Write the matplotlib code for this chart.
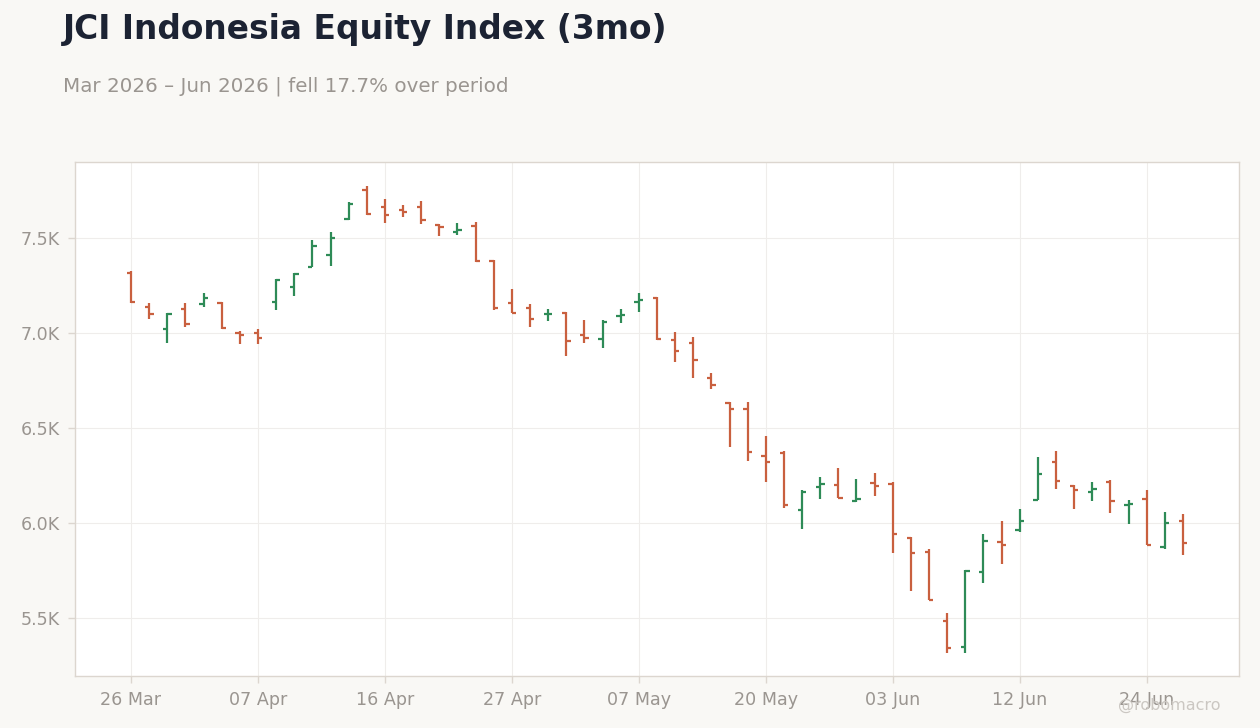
import numpy as np
import pandas as pd
import matplotlib
matplotlib.use("Agg")
import matplotlib.pyplot as plt
from matplotlib.ticker import FuncFormatter

## Data
holidays = ["2026-04-03", "2026-05-01", "2026-05-14", "2026-05-15",
            "2026-05-27", "2026-05-28", "2026-06-01", "2026-06-16"]
dates = pd.bdate_range("2026-03-26", periods=59, freq="C", holidays=holidays)

opens = [7317, 7138, 7021, 7126, 7153, 7156, 7000, 7000, 7163, 7244,
         7349, 7411, 7600, 7754, 7663, 7649, 7665, 7568, 7533, 7565,
         7380, 7160, 7133, 7098, 7107, 6991, 6970, 7091, 7165, 7186,
         6963, 6949, 6763, 6632, 6602, 6354, 6370, 6070, 6191, 6202,
         6118, 6212, 6207, 5923, 5849, 5486, 5349, 5744, 5900, 5965,
         6123, 6321, 6196, 6165, 6218, 6096, 6128, 5875, 6012]
highs = [7325, 7156, 7104, 7156, 7211, 7162, 7009, 7019, 7284, 7314,
         7489, 7532, 7688, 7774, 7705, 7674, 7695, 7572, 7579, 7584,
         7383, 7232, 7153, 7126, 7111, 7068, 7067, 7126, 7211, 7189,
         7005, 6979, 6789, 6635, 6635, 6458, 6377, 6172, 6242, 6289,
         6232, 6263, 6216, 5926, 5863, 5526, 5751, 5942, 6011, 6074,
         6347, 6379, 6200, 6216, 6225, 6120, 6172, 6058, 6047]
lows = [7156, 7075, 6949, 7033, 7138, 7021, 6941, 6944, 7123, 7196,
        7346, 7354, 7595, 7622, 7581, 7612, 7575, 7512, 7517, 7375,
        7119, 7103, 7033, 7065, 6881, 6949, 6923, 7054, 7112, 6965,
        6849, 6765, 6707, 6402, 6328, 6217, 6081, 5970, 6128, 6130,
        6112, 6144, 5844, 5644, 5593, 5317, 5317, 5683, 5786, 5955,
        6120, 6181, 6075, 6118, 6054, 5996, 5882, 5865, 5833]
closes = [7162, 7100, 7098, 7047, 7186, 7026, 6991, 6974, 7281, 7311,
          7460, 7502, 7681, 7626, 7623, 7638, 7595, 7560, 7544, 7381,
          7133, 7105, 7075, 7102, 6960, 6975, 7060, 7096, 7175, 6970,
          6907, 6858, 6728, 6602, 6374, 6321, 6093, 6165, 6207, 6132,
          6128, 6195, 5944, 5844, 5595, 5342, 5747, 5905, 5884, 6012,
          6260, 6221, 6174, 6179, 6118, 6102, 5884, 6000, 5896]

## Styling
up_color = "#2e8b57"
down_color = "#c9603f"
bg_color = "#f9f8f5"
spine_color = "#dcd6cf"
grid_color = "#efedeb"
label_color = "#9a9590"

x = np.arange(len(dates))
o = np.array(opens)
c = np.array(closes)
colors = np.where(c >= o, up_color, down_color)
change = (closes[-1] / closes[0] - 1) * 100

fig = plt.figure(figsize=(12.6, 7.28), dpi=100, facecolor=bg_color)
ax = fig.add_axes([0.0595, 0.0714, 0.9238, 0.7061])
ax.set_facecolor("white")

## OHLC bars: high-low stem, open tick left, close tick right
tw = 0.24
ax.vlines(x, lows, highs, colors=colors, linewidth=1.6, zorder=3)
ax.hlines(opens, x - tw, x, colors=colors, linewidth=1.6, zorder=3)
ax.hlines(closes, x, x + tw, colors=colors, linewidth=1.6, zorder=3)

ax.set_xlim(-3.09, len(dates) - 1 + 3.09)
ax.set_ylim(5195, 7900)

tick_idx = x[::7]
ax.set_xticks(tick_idx)
ax.set_xticklabels([dates[i].strftime("%d %b") for i in tick_idx])
ax.set_yticks([5500, 6000, 6500, 7000, 7500])
ax.yaxis.set_major_formatter(FuncFormatter(lambda v, p: "{:.1f}K".format(v / 1000)))

ax.grid(True, color=grid_color, linewidth=0.8, zorder=0)
ax.set_axisbelow(True)
for s in ax.spines.values():
    s.set_color(spine_color)
    s.set_linewidth(1.0)
ax.tick_params(axis="both", colors=spine_color, labelcolor=label_color,
               labelsize=12.6, length=5, width=1, pad=6)

fig.text(0.05, 0.959, "JCI Indonesia Equity Index (3mo)", fontsize=23.7,
         fontweight="bold", color="#1c2333", va="center", ha="left")
fig.text(0.05, 0.882, "Mar 2026 \u2013 Jun 2026 | fell {:.1f}% over period".format(abs(change)),
         fontsize=14.3, color=label_color, va="center", ha="left")
fig.text(0.928, 0.031, "@robomacro", fontsize=11.5, color="#cbc7c2",
         va="center", ha="center")

plt.savefig("out.png", dpi=100, facecolor=bg_color)
